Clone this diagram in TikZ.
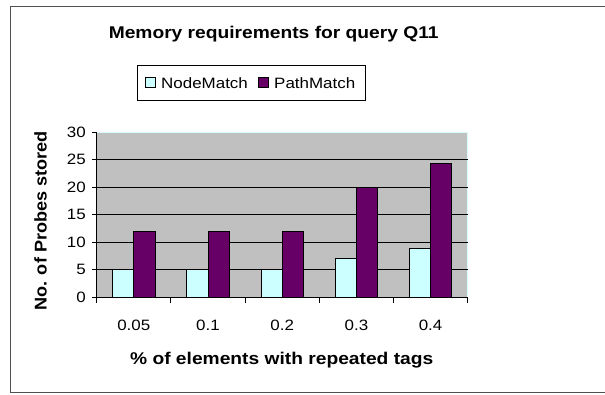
\documentclass[tikz,border=0pt]{standalone}
\usepackage{fontspec}
\setmainfont{Liberation Sans}
\usetikzlibrary{positioning}

% chart colours
\definecolor{nodefill}{HTML}{CCFFFF}
\definecolor{pathfill}{HTML}{660066}
\definecolor{plotgray}{HTML}{C0C0C0}
\definecolor{frameline}{HTML}{505050}
\definecolor{plotedge}{HTML}{D8FCFC}

% slightly widened lettering
\newcommand\stretchtext[1]{\scalebox{1.13}[1]{#1}}

\tikzset{
  titletext/.style={font=\fontsize{17}{19}\selectfont\bfseries, inner sep=0pt},
  labeltext/.style={font=\fontsize{15}{17}\selectfont, inner sep=0pt},
  gridline/.style={line width=0.9pt, black},
  barNode/.style={draw=black, line width=1pt, fill=nodefill},
  barPath/.style={draw=black, line width=1pt, fill=pathfill},
  legendkey/.style={draw=black, line width=0.9pt, minimum width=10pt, minimum height=9.5pt, inner sep=0pt},
}

\begin{document}
\begin{tikzpicture}[x=1pt, y=-1pt]
\useasboundingbox (0,0) rectangle (605,394);
\fill[white] (0,0) rectangle (605,394);

% outer chart frame (runs past the right edge)
\draw[frameline, line width=1.1pt] (605,6.7) -- (10.5,6.7) -- (10.5,392.7) -- (605,392.7);

% title
\node[titletext, anchor=base] (title) at (273.7,38.3) {\stretchtext{Memory requirements for query Q11}};

% legend
\draw[black, line width=1pt] (137.7,65.7) rectangle (365.7,100.7);
\node[legendkey, fill=nodefill] (keyN) at (150.5,82.6) {};
\node[labeltext, anchor=base west] (legN) at (161,88.5) {\stretchtext{NodeMatch}};
\node[legendkey, fill=pathfill] (keyP) at (263.3,82.6) {};
\node[labeltext, anchor=base west] (legP) at (274,88.5) {\stretchtext{PathMatch}};

% plot area
\def\xL{96.7}
\def\xR{467.7}
\def\yZ{297.2}
\def\u{5.5}
\fill[plotgray] (\xL,132.2) rectangle (\xR,\yZ);
\draw[plotedge, line width=1pt] (\xL,132.2) -- (\xR,132.2) -- (\xR,\yZ);

% horizontal gridlines
\foreach \v in {5,10,...,25}
  \draw[gridline] (\xL,\yZ-\u*\v) -- (\xR,\yZ-\u*\v);

% bars: category width 74.2, bar width 21.2
\foreach \i/\n/\p in {0/5/12, 1/5/12, 2/5/12, 3/7/20, 4/8.8/24.3} {
  \pgfmathsetmacro\s{\xL+74.2*\i}
  \draw[barNode] (\s+15.9,\yZ) rectangle (\s+37.1,\yZ-\u*\n);
  \draw[barPath] (\s+37.1,\yZ) rectangle (\s+58.3,\yZ-\u*\p);
}

% axes
\draw[gridline] (\xL,132.2) -- (\xL,\yZ) -- (\xR,\yZ);
\foreach \v in {0,5,...,30} {
  \draw[gridline] (\xL-5,\yZ-\u*\v) -- (\xL,\yZ-\u*\v);
  \node[labeltext, anchor=east] (yt\v) at (86,\yZ-\u*\v) {\stretchtext{\v}};
}
\foreach \i in {0,...,5}
  \draw[gridline] (\xL+74.2*\i,\yZ) -- (\xL+74.2*\i,\yZ+6);

% category labels
\foreach \i/\t in {0/0.05, 1/0.1, 2/0.2, 3/0.3, 4/0.4}
  \node[labeltext, anchor=base] (xt\i) at (\xL+37.1+74.2*\i,330.5) {\stretchtext{\t}};

% axis titles
\node[titletext, anchor=base] (xtitle) at (281.7,364.5) {\stretchtext{\% of elements with repeated tags}};
\node[titletext, anchor=base, rotate=90] (ytitle) at (46.7,221) {\scalebox{1.065}[1]{No. of Probes stored}};
\end{tikzpicture}
\end{document}
